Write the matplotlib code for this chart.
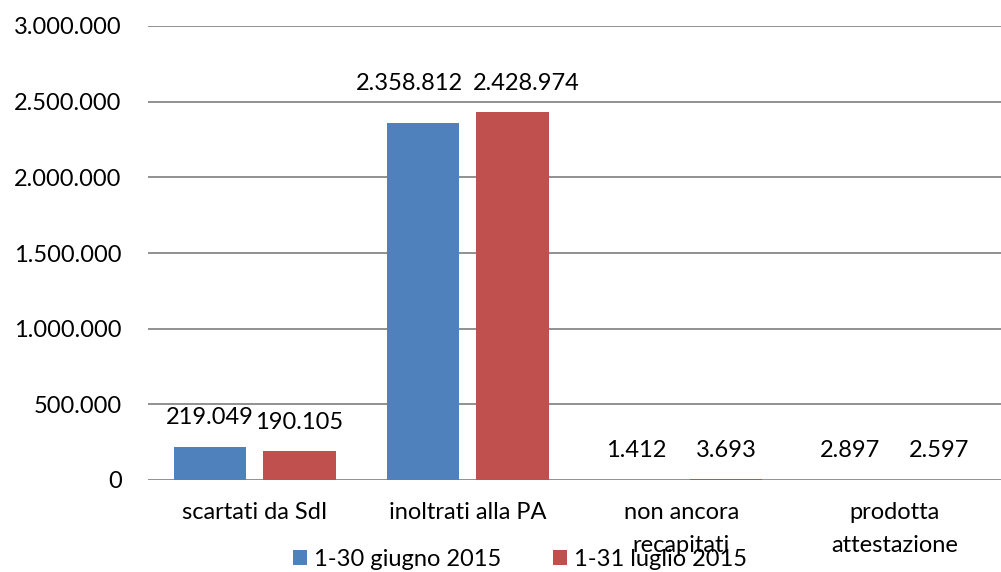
import matplotlib
matplotlib.use("Agg")
import matplotlib.pyplot as plt
import numpy as np

categories = ["scartati da SdI", "inoltrati alla PA", "non ancora\nrecapitati", "prodotta\nattestazione"]
series_names = ["1-30 giugno 2015", "1-31 luglio 2015"]
giugno = [219049, 2358812, 1412, 2897]
luglio = [190105, 2428974, 3693, 2597]
yticks = [0, 500000, 1000000, 1500000, 2000000, 2500000, 3000000]

def fmt(v):
    return f"{v:,}".replace(",", ".")

plt.rcParams['font.family'] = ['Lato', 'DejaVu Sans']
FS = 17

fig = plt.figure(figsize=(10.01, 5.72), dpi=100)
ax = fig.add_axes([148/1001, (572-480)/572, (1001-148)/1001, (480-26)/572])

x = np.arange(len(categories))
w = 0.34
off = 0.21
colors = ["#4F81BD", "#C0504D"]
b1 = ax.bar(x - off, giugno, w, color=colors[0], label=series_names[0], zorder=3)
b2 = ax.bar(x + off, luglio, w, color=colors[1], label=series_names[1], zorder=3)

labels = []
for bars, vals in ((b1, giugno), (b2, luglio)):
    row = []
    for r, v in zip(bars, vals):
        t = ax.annotate(fmt(v), (r.get_x() + r.get_width()/2, v), xytext=(0, 21),
                        textcoords="offset points", ha="center", va="center", fontsize=FS, color="black")
        row.append(t)
    labels.append(row)

ax.set_xlim(-0.5, 3.5)
ax.set_ylim(0, 3000000)
ax.set_yticks(yticks)
ax.set_yticklabels([fmt(t) for t in yticks], fontsize=FS)
ax.set_xticks(x)
ax.set_xticklabels(categories, fontsize=FS, linespacing=1.7)
ax.tick_params(axis='y', length=0, pad=19)
ax.tick_params(axis='x', length=0, pad=16)
ax.grid(axis='y', color='#888888', linewidth=1.3, zorder=0)
for s in ax.spines.values():
    s.set_visible(False)

# resolve overlapping data labels within a group (Excel-like)
fig.canvas.draw()
renderer = fig.canvas.get_renderer()
px2pt = 72.0 / fig.dpi
for i in range(len(categories)):
    a, b = labels[0][i], labels[1][i]
    ea, eb = a.get_window_extent(renderer), b.get_window_extent(renderer)
    xov = ea.x1 - eb.x0
    yov = min(ea.y1, eb.y1) - max(ea.y0, eb.y0)
    if xov > 0 and yov > 0:
        top = max((ea.y0 + ea.y1) / 2, (eb.y0 + eb.y1) / 2)
        shift = (xov + 10) / 2
        for t, e, s in ((a, ea, -shift), (b, eb, shift)):
            dy = top - (e.y0 + e.y1) / 2
            ox, oy = t.xyann
            t.xyann = (ox + s * px2pt, oy + dy * px2pt)

fig.legend(handles=[b1, b2], labels=series_names, loc='center', bbox_to_anchor=(520/1001, 1-559/572),
           ncol=2, frameon=False, fontsize=FS, handlelength=0.6, handleheight=0.6,
           handletextpad=0.3, columnspacing=2.2, borderpad=0)

fig.savefig("out.png", dpi=100)
